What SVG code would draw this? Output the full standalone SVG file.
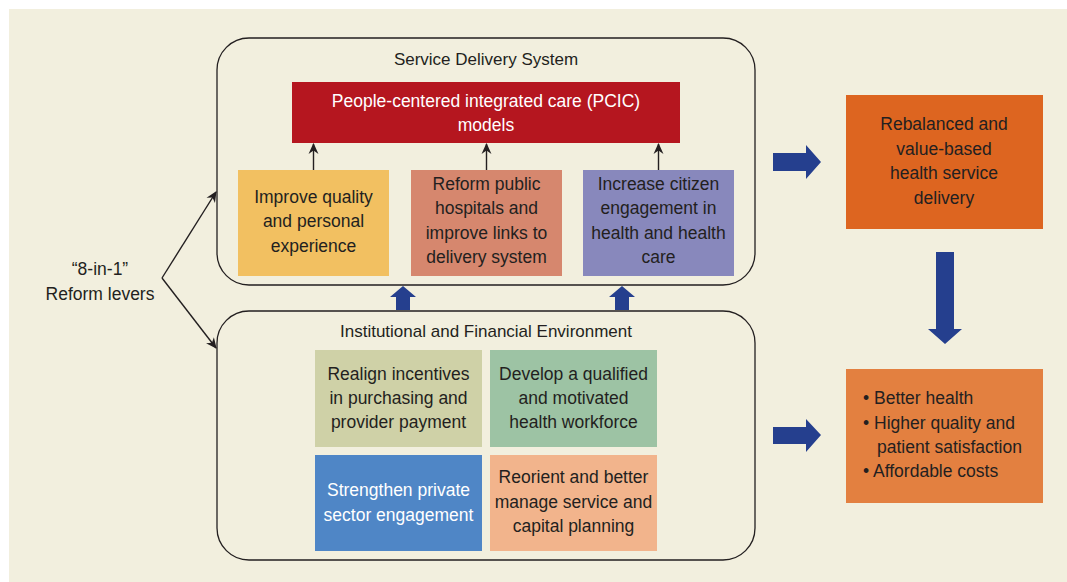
<svg xmlns="http://www.w3.org/2000/svg" width="1067" height="582" viewBox="0 0 1067 582">
  <defs>
    <marker id="tip" viewBox="0 0 10 10" refX="9" refY="5" markerWidth="11" markerHeight="11" markerUnits="userSpaceOnUse" orient="auto">
      <path d="M0,0.5 L10,5 L0,9.5 L3,5 Z" fill="#231f20"/>
    </marker>
    <style>
      text { font-family: "Liberation Sans", Arial, sans-serif; font-size: 17.5px; fill: #231f20; text-anchor: middle; }
      .title { font-size: 17px; }
      .white { fill: #ffffff; }
      .left { text-anchor: start; }
      .frame { fill: none; stroke: #231f20; stroke-width: 1.3; }
      .thin { fill: none; stroke: #231f20; stroke-width: 1.4; }
      .big { fill: #253f8e; }
    </style>
  </defs>

  <rect x="9" y="9" width="1058" height="573" fill="#f2efde"/>

  <!-- containers -->
  <g id="service-delivery">
    <rect class="frame" x="217" y="38" width="538" height="247" rx="32"/>
    <text class="title" x="486" y="65">Service Delivery System</text>
  </g>
  <g id="institutional-env">
    <rect class="frame" x="217" y="311" width="538" height="249" rx="32"/>
    <text class="title" x="486" y="337">Institutional and Financial Environment</text>
  </g>

  <!-- nodes -->
  <g id="pcic">
    <rect x="292" y="82" width="388" height="61" fill="#b5161f"/>
    <text class="white" x="486" y="107">People-centered integrated care (PCIC)</text>
    <text class="white" x="486" y="131">models</text>
  </g>
  <g id="quality">
    <rect x="238" y="170" width="151" height="106" fill="#f2c061"/>
    <text x="313.5" y="203">Improve quality</text>
    <text x="313.5" y="227">and personal</text>
    <text x="313.5" y="252">experience</text>
  </g>
  <g id="hospitals">
    <rect x="411" y="170" width="151" height="106" fill="#d6876e"/>
    <text x="486.5" y="190">Reform public</text>
    <text x="486.5" y="214">hospitals and</text>
    <text x="486.5" y="239">improve links to</text>
    <text x="486.5" y="263">delivery system</text>
  </g>
  <g id="citizen">
    <rect x="583" y="170" width="151" height="106" fill="#8888bc"/>
    <text x="658.5" y="190">Increase citizen</text>
    <text x="658.5" y="214">engagement in</text>
    <text x="658.5" y="239">health and health</text>
    <text x="658.5" y="263">care</text>
  </g>
  <g id="incentives">
    <rect x="315" y="350" width="167" height="97" fill="#cfd1a7"/>
    <text x="398.5" y="380">Realign incentives</text>
    <text x="398.5" y="404">in purchasing and</text>
    <text x="398.5" y="428">provider payment</text>
  </g>
  <g id="workforce">
    <rect x="490" y="350" width="167" height="97" fill="#9dc3a4"/>
    <text x="573.5" y="380">Develop a qualified</text>
    <text x="573.5" y="404">and motivated</text>
    <text x="573.5" y="428">health workforce</text>
  </g>
  <g id="private-sector">
    <rect x="315" y="455" width="167" height="96" fill="#4f86c6"/>
    <text class="white" x="398.5" y="496">Strengthen private</text>
    <text class="white" x="398.5" y="521">sector engagement</text>
  </g>
  <g id="planning">
    <rect x="490" y="455" width="167" height="96" fill="#f2b48c"/>
    <text x="573.5" y="483">Reorient and better</text>
    <text x="573.5" y="508">manage service and</text>
    <text x="573.5" y="532">capital planning</text>
  </g>
  <g id="levers">
    <text x="100" y="275">“8-in-1”</text>
    <text x="100" y="300">Reform levers</text>
  </g>
  <g id="rebalanced">
    <rect x="846" y="95" width="197" height="134" fill="#dd6520"/>
    <text x="944" y="130">Rebalanced and</text>
    <text x="944" y="155">value-based</text>
    <text x="944" y="179">health service</text>
    <text x="944" y="204">delivery</text>
  </g>
  <g id="outcomes">
    <rect x="846" y="369" width="197" height="134" fill="#e38040"/>
    <text class="left" x="863" y="404">• Better health</text>
    <text class="left" x="863" y="429">• Higher quality and</text>
    <text class="left" x="877" y="453">patient satisfaction</text>
    <text class="left" x="863" y="477">• Affordable costs</text>
  </g>

  <!-- connectors -->
  <g id="connectors">
    <line class="thin" x1="313.5" y1="170" x2="313.5" y2="144" marker-end="url(#tip)"/>
    <line class="thin" x1="486.5" y1="170" x2="486.5" y2="144" marker-end="url(#tip)"/>
    <line class="thin" x1="658.5" y1="170" x2="658.5" y2="144" marker-end="url(#tip)"/>
    <polyline class="thin" points="162,278 216,192" marker-end="url(#tip)"/>
    <polyline class="thin" points="162,278 216,348" marker-end="url(#tip)"/>
    <path class="big" d="M396,310 L396,297 L390,297 L403,286 L416,297 L410,297 L410,310 Z"/>
    <path class="big" d="M615,310 L615,297 L609,297 L622,286 L635,297 L629,297 L629,310 Z"/>
    <path class="big" d="M773,153 L806,153 L806,145 L821,162 L806,179 L806,171 L773,171 Z"/>
    <path class="big" d="M773,427 L806,427 L806,419 L821,435 L806,452 L806,444 L773,444 Z"/>
    <path class="big" d="M936,252 L954,252 L954,329 L962,329 L945,344 L928,329 L936,329 Z"/>
  </g>
</svg>
